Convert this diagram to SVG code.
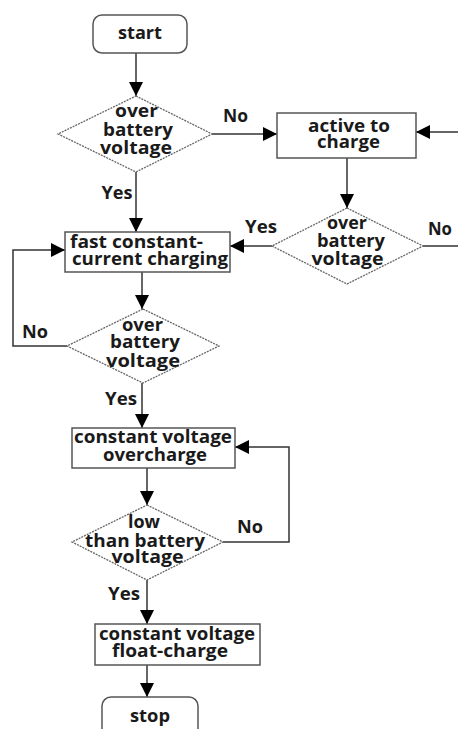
<svg xmlns="http://www.w3.org/2000/svg" width="458" height="729" viewBox="0 0 458 729">
<defs>
<marker id="ah" viewBox="0 0 10 10" refX="10" refY="5" markerWidth="14" markerHeight="14" markerUnits="userSpaceOnUse" orient="auto">
<path d="M0,0 L10,5 L0,10 Z" fill="#000"/>
</marker>
<style>
.box{fill:#fff;stroke:#555;stroke-width:1.5}
.dia{fill:#fff;stroke:#666;stroke-width:1.3;stroke-dasharray:2,1}
.ln{fill:none;stroke:#333;stroke-width:1.5}
text{font-family:"Open Sans","Noto Sans","DejaVu Sans",sans-serif;font-weight:bold;font-size:17px;fill:#1a1a1a;text-anchor:middle}
</style>
</defs>
<rect width="458" height="729" fill="#fff"/>
<g id="connectors">
<line class="ln" x1="136" y1="53" x2="136" y2="96" marker-end="url(#ah)"/>
<line class="ln" x1="212" y1="134" x2="277" y2="134" marker-end="url(#ah)"/>
<line class="ln" x1="458" y1="132" x2="416" y2="132" marker-end="url(#ah)"/>
<line class="ln" x1="347" y1="158" x2="347" y2="208" marker-end="url(#ah)"/>
<line class="ln" x1="136" y1="172" x2="136" y2="232" marker-end="url(#ah)"/>
<line class="ln" x1="272" y1="246" x2="230" y2="246" marker-end="url(#ah)"/>
<line class="ln" x1="423" y1="246" x2="458" y2="246"/>
<line class="ln" x1="142" y1="272" x2="142" y2="309" marker-end="url(#ah)"/>
<polyline class="ln" points="67,346 13,346 13,250 65,250" marker-end="url(#ah)"/>
<line class="ln" x1="142" y1="383" x2="142" y2="428" marker-end="url(#ah)"/>
<line class="ln" x1="147" y1="468" x2="147" y2="505" marker-end="url(#ah)"/>
<polyline class="ln" points="223,542 289,542 289,447 235,447" marker-end="url(#ah)"/>
<line class="ln" x1="147" y1="580" x2="147" y2="624" marker-end="url(#ah)"/>
<line class="ln" x1="147" y1="665" x2="147" y2="697" marker-end="url(#ah)"/>
<text x="235.5" y="122" textLength="25" lengthAdjust="spacingAndGlyphs">No</text>
<text x="117" y="199" textLength="31" lengthAdjust="spacingAndGlyphs">Yes</text>
<text x="261" y="233" textLength="32" lengthAdjust="spacingAndGlyphs">Yes</text>
<text x="440" y="235" textLength="24" lengthAdjust="spacingAndGlyphs">No</text>
<text x="35" y="338" textLength="26" lengthAdjust="spacingAndGlyphs">No</text>
<text x="121" y="405" textLength="32" lengthAdjust="spacingAndGlyphs">Yes</text>
<text x="250" y="533" textLength="26" lengthAdjust="spacingAndGlyphs">No</text>
<text x="124" y="600" textLength="32" lengthAdjust="spacingAndGlyphs">Yes</text>
</g>
<g id="start">
<rect class="box" x="93" y="15" width="94" height="38" rx="9"/>
<text x="140" y="39" textLength="44" lengthAdjust="spacingAndGlyphs">start</text>
</g>
<g id="d1">
<polygon class="dia" points="136,96 212,134 136,172 58,134"/>
<text x="136.5" y="117" textLength="43" lengthAdjust="spacingAndGlyphs">over</text>
<text x="138" y="136" textLength="70" lengthAdjust="spacingAndGlyphs">battery</text>
<text x="136" y="154" textLength="72" lengthAdjust="spacingAndGlyphs">voltage</text>
</g>
<g id="active">
<rect class="box" x="277" y="113" width="139" height="45"/>
<text x="349" y="132" textLength="82" lengthAdjust="spacingAndGlyphs">active to</text>
<text x="348.5" y="148" textLength="63" lengthAdjust="spacingAndGlyphs">charge</text>
</g>
<g id="d2">
<polygon class="dia" points="347,208 423,246 347,284 272,246"/>
<text x="347" y="229" textLength="40" lengthAdjust="spacingAndGlyphs">over</text>
<text x="351" y="247" textLength="68" lengthAdjust="spacingAndGlyphs">battery</text>
<text x="347.5" y="265" textLength="72" lengthAdjust="spacingAndGlyphs">voltage</text>
</g>
<g id="fast">
<rect class="box" x="65" y="232" width="165" height="40"/>
<text x="136.5" y="248" textLength="133" lengthAdjust="spacingAndGlyphs">fast constant-</text>
<text x="150" y="265" textLength="156" lengthAdjust="spacingAndGlyphs">current charging</text>
</g>
<g id="d3">
<polygon class="dia" points="143,309 219,346 143,383 67,346"/>
<text x="142.5" y="331" textLength="41" lengthAdjust="spacingAndGlyphs">over</text>
<text x="145" y="348" textLength="70" lengthAdjust="spacingAndGlyphs">battery</text>
<text x="143" y="367" textLength="74" lengthAdjust="spacingAndGlyphs">voltage</text>
</g>
<g id="cvo">
<rect class="box" x="72" y="428" width="163" height="40"/>
<text x="153" y="443" textLength="158" lengthAdjust="spacingAndGlyphs">constant voltage</text>
<text x="155" y="461" textLength="104" lengthAdjust="spacingAndGlyphs">overcharge</text>
</g>
<g id="d4">
<polygon class="dia" points="147,505 223,542 147,580 72,542"/>
<text x="144" y="528" textLength="32" lengthAdjust="spacingAndGlyphs">low</text>
<text x="145" y="547" textLength="120" lengthAdjust="spacingAndGlyphs">than battery</text>
<text x="147.5" y="563" textLength="72" lengthAdjust="spacingAndGlyphs">voltage</text>
</g>
<g id="cvf">
<rect class="box" x="95" y="624" width="165" height="41"/>
<text x="177" y="640" textLength="156" lengthAdjust="spacingAndGlyphs">constant voltage</text>
<text x="170" y="657" textLength="116" lengthAdjust="spacingAndGlyphs">float-charge</text>
</g>
<g id="stop">
<rect class="box" x="102" y="697" width="96" height="45" rx="9"/>
<text x="150" y="722" textLength="40" lengthAdjust="spacingAndGlyphs">stop</text>
</g>
</svg>
